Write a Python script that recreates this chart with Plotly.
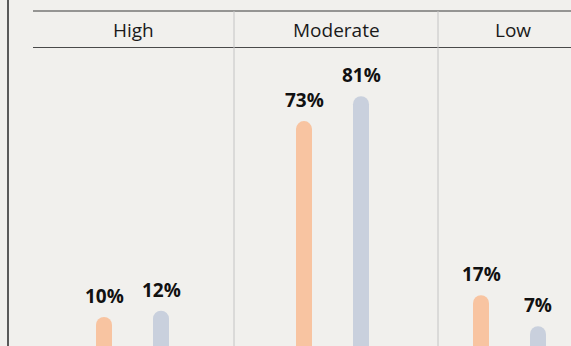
import plotly.graph_objects as go

# Data
levels = ["High", "Moderate", "Low"]
series_names = ["Group A", "Group B"]
group_a = [10, 73, 17]
group_b = [12, 81, 7]

# Styling / layout constants (pixels)
W, H = 571, 346
BG = "#f1f0ed"
COLORS = ["#f8c4a1", "#c9d0dd"]
FONT = "Open Sans"
facet_edges = [(33, 234), (234, 438), (438, 588)]   # facet column bounds
first_bar_px = [104, 304, 481]                        # centre of first bar in each facet
bar_pitch = 57                                        # distance between the two bars
bar_px = 16
zero_px, px_per_unit = 348, 3.108                     # y scale
header_y, top_line_y, header_line_y = 30, 11, 47.5
left_rule_x = 8

fig = go.Figure()
values = [group_a, group_b]

for i, level in enumerate(levels):
    ax = "x" if i == 0 else f"x{i + 1}"
    for s, name in enumerate(series_names):
        fig.add_trace(go.Bar(
            x=[name], y=[values[s][i]], xaxis=ax, yaxis="y",
            width=bar_px / bar_pitch,
            marker=dict(color=COLORS[s], cornerradius="50%", line=dict(width=0)),
            hoverinfo="skip", showlegend=False,
        ))
        fig.add_annotation(
            x=name, y=values[s][i], xref=ax, yref="y",
            text=f"<b>{values[s][i]}%</b>", showarrow=False,
            yanchor="middle", yshift=21,
            font=dict(family=FONT, size=19, color="#111111"),
        )

# axes: one x axis per facet, shared y axis
layout_axes = {}
for i, (l, r) in enumerate(facet_edges):
    r_clip = min(r, W)
    left = -(first_bar_px[i] - l) / bar_pitch
    right = left + (r_clip - l) / bar_pitch
    key = "xaxis" if i == 0 else f"xaxis{i + 1}"
    layout_axes[key] = dict(
        domain=[l / W, r_clip / W], range=[left, right], anchor="y",
        type="category", categoryorder="array", categoryarray=series_names,
        visible=False, fixedrange=True,
    )

y_top = zero_px / px_per_unit
y_bottom = (zero_px - H) / px_per_unit
fig.update_layout(
    **layout_axes,
    yaxis=dict(domain=[0, 1], range=[y_bottom, y_top], visible=False, fixedrange=True),
    width=W, height=H, margin=dict(l=0, r=0, t=0, b=0),
    paper_bgcolor=BG, plot_bgcolor=BG, barmode="overlay", showlegend=False,
)

def py(p):
    return 1 - p / H

def px(p):
    return p / W

# facet header labels
for i, level in enumerate(levels):
    l, r = facet_edges[i]
    fig.add_annotation(
        x=px((l + r) / 2), y=py(header_y), xref="paper", yref="paper",
        text=level, showarrow=False, xanchor="center", yanchor="middle",
        font=dict(family=FONT, size=19, color="#1a1a1a"),
    )

# rules
shapes = [
    dict(type="line", xref="paper", yref="paper", x0=px(left_rule_x), x1=px(left_rule_x),
         y0=0, y1=1, line=dict(color="#5a5a5a", width=2)),
    dict(type="line", xref="paper", yref="paper", x0=px(33), x1=1,
         y0=py(top_line_y), y1=py(top_line_y), line=dict(color="#3a3a3a", width=1.2)),
    dict(type="line", xref="paper", yref="paper", x0=px(33), x1=1,
         y0=py(header_line_y), y1=py(header_line_y), line=dict(color="#4a4a4a", width=1.2)),
]
for l, _ in facet_edges[1:]:
    shapes.append(dict(type="line", xref="paper", yref="paper", x0=px(l), x1=px(l),
                       y0=0, y1=py(top_line_y), line=dict(color="#c4c4c4", width=1)))
fig.update_layout(shapes=shapes)

fig.write_html("out.html")
